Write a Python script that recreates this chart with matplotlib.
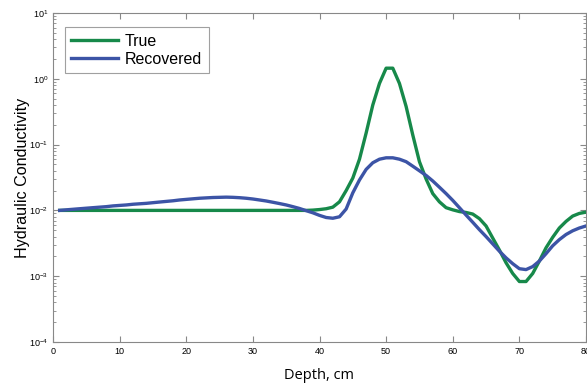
import matplotlib
matplotlib.use('Agg')
import matplotlib.pyplot as plt
import numpy as np

depth = list(range(1, 81))

true_k = [0.01] * 38 + [
    0.0101, 0.0103, 0.0106, 0.0112, 0.0135, 0.02, 0.031, 0.06, 0.15, 0.4,
    0.85, 1.45, 1.45, 0.85, 0.38, 0.14, 0.055, 0.03, 0.018, 0.0135,
    0.011, 0.0102, 0.0096, 0.0093, 0.0088, 0.0075, 0.0058, 0.0038, 0.0025, 0.0016,
    0.0011, 0.00083, 0.00083, 0.0011, 0.0017, 0.0027, 0.0039, 0.0054, 0.0068, 0.0082,
    0.009, 0.0094]

recovered_k = [
    0.0100, 0.0102, 0.0104, 0.0106, 0.0108, 0.0110, 0.0112, 0.0114, 0.0117, 0.0119,
    0.0121, 0.0124, 0.0126, 0.0128, 0.0131, 0.0134, 0.0137, 0.0140, 0.0144, 0.0147,
    0.0150, 0.0153, 0.0155, 0.0157, 0.0158, 0.0159, 0.0158, 0.0156, 0.0153, 0.0149,
    0.0144, 0.0139, 0.0133, 0.0127, 0.0121, 0.0114, 0.0107, 0.0099, 0.0092, 0.0084,
    0.0078, 0.0076, 0.0080, 0.0105, 0.0185, 0.029, 0.042, 0.053, 0.060, 0.063,
    0.063, 0.060, 0.055, 0.047, 0.040, 0.034, 0.028, 0.0225, 0.018, 0.0142,
    0.011, 0.0085, 0.0066, 0.0051, 0.0040, 0.0031, 0.0024, 0.0019, 0.00155, 0.0013,
    0.00126, 0.0014, 0.0017, 0.0022, 0.0029, 0.0036, 0.0043, 0.0049, 0.0054, 0.0058]

xticks = [0, 10, 20, 30, 40, 50, 60, 70, 80]

plt.rcParams['font.family'] = ['Liberation Sans', 'DejaVu Sans']
plt.rcParams['mathtext.fontset'] = 'custom'
plt.rcParams['mathtext.rm'] = 'Liberation Sans'
plt.rcParams['mathtext.it'] = 'Liberation Sans'

fig = plt.figure(figsize=(5.87, 3.84), dpi=100)
ax = fig.add_axes([53 / 587, 1 - 342 / 384, 533 / 587, 329 / 384])

ax.semilogy(depth, true_k, color='#17894a', lw=2.4, label='True')
ax.semilogy(depth, recovered_k, color='#3c54a6', lw=2.4, label='Recovered')

ax.set_xlim(0, 80)
ax.set_ylim(1e-4, 1e1)
ax.set_xticks(xticks)
ax.tick_params(which='both', direction='in', top=True, right=True,
               labelsize=6.5, color='#888888')
ax.tick_params(which='major', length=4)
ax.tick_params(which='minor', length=2)
for s in ax.spines.values():
    s.set_color('#888888')
    s.set_linewidth(0.8)

ax.set_xlabel('Depth, cm', fontsize=10.5, family='Open Sans', va='baseline')
ax.xaxis.set_label_coords(0.5, -0.1125)
ax.set_ylabel('Hydraulic Conductivity', fontsize=11.6)
ax.yaxis.set_label_coords(-0.044, 0.5)

leg = ax.legend(loc='upper left', fontsize=11.5, fancybox=False,
                edgecolor='#888888', handlelength=2.9, handletextpad=0.45,
                borderpad=0.4, labelspacing=0.2, borderaxespad=0,
                bbox_to_anchor=(0.0225, 0.957))
leg.get_frame().set_linewidth(0.8)

fig.savefig('out.png', dpi=100)
